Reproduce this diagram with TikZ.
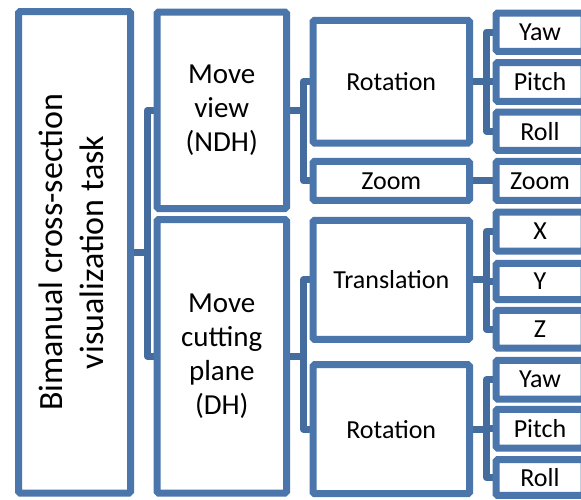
\documentclass[tikz,border=0pt]{standalone}
\usepackage{fontspec}
\setmainfont{Carlito}
\usetikzlibrary{backgrounds}
\definecolor{bord}{HTML}{4A76AC}
\definecolor{conn}{HTML}{446C9F}
\begin{document}
\begin{tikzpicture}[x=1pt,y=-1pt,
  box/.style={draw=bord, line width=7pt, fill=white, rounded corners=1.5pt, inner sep=0pt, align=center},
  link/.style={draw=conn, line width=7pt, line join=round},
  fa/.style={font=\fontsize{26}{31}\selectfont},
  fb/.style={font=\fontsize{29}{34}\selectfont},
  leaf/.style={box, fa, minimum width=88pt}]
\useasboundingbox (0,0) rectangle (581,499);
\clip (0,0) rectangle (581,499);
% root
\node[box, minimum width=112pt, minimum height=481.5pt] (root) at (74.5,252.25)
  {\rotatebox{90}{\fontsize{34}{41}\selectfont\begin{tabular}{@{}c@{}}Bimanual cross-section\\visualization task\end{tabular}}};
% level 2
\node[box, fb, minimum width=129.5pt, minimum height=196.5pt] (mv) at (221.75,110.25) {Move\\view\\(NDH)};
\node[box, fb, minimum width=129.5pt, minimum height=273.5pt] (mcp) at (221.75,356.25) {Move\\cutting\\plane\\(DH)};
% level 3
\node[box, fa, minimum width=156.5pt, minimum height=122.7pt] (rot1) at (391.25,81.65) {Rotation};
\node[box, fa, minimum width=156.5pt, minimum height=39pt] (zm3) at (391.25,180.8) {Zoom};
\node[box, fa, minimum width=156.5pt, minimum height=119pt] (tr) at (391.25,279.8) {Translation};
\node[box, fa, minimum width=156.5pt, minimum height=129pt] (rot2) at (391.25,429.2) {Rotation};
% level 4
\node[leaf, minimum height=38.3pt] (yaw1) at (540,32.15) {Yaw};
\node[leaf, minimum height=38.8pt] (pitch1) at (540,81.9) {Pitch};
\node[leaf, minimum height=38.3pt] (roll1) at (540,131.15) {Roll};
\node[leaf, minimum height=39pt] (zm4) at (540,180.8) {Zoom};
\node[leaf, minimum height=39pt] (xx) at (540,231.5) {X};
\node[leaf, minimum height=36.4pt] (yy) at (540,281.5) {Y};
\node[leaf, minimum height=37.7pt] (zz) at (540,329.15) {Z};
\node[leaf, minimum height=38.7pt] (yaw2) at (540,379.65) {Yaw};
\node[leaf, minimum height=38.7pt] (pitch2) at (540,428.65) {Pitch};
\node[leaf, minimum height=35.6pt] (roll2) at (540,477.5) {Roll};
% connectors
\begin{pgfonlayer}{background}
\draw[link] (root.east) -- ++(13.5,0) |- (mv.west);
\draw[link] (root.east) -- ++(13.5,0) |- (mcp.west);
\draw[link] (mv.east) -- ++(13.5,0) |- (rot1.west);
\draw[link] (mv.east) -- ++(13.5,0) |- (zm3.west);
\draw[link] (mcp.east) -- ++(13.5,0) |- (tr.west);
\draw[link] (mcp.east) -- ++(13.5,0) |- (rot2.west);
\draw[link] (rot1.east) -- ++(13.5,0) |- (yaw1.west);
\draw[link] (rot1.east) -- ++(13.5,0) |- (pitch1.west);
\draw[link] (rot1.east) -- ++(13.5,0) |- (roll1.west);
\draw[link] (zm3.east) -- (zm4.west);
\draw[link] (tr.east) -- ++(13.5,0) |- (xx.west);
\draw[link] (tr.east) -- ++(13.5,0) |- (yy.west);
\draw[link] (tr.east) -- ++(13.5,0) |- (zz.west);
\draw[link] (rot2.east) -- ++(13.5,0) |- (yaw2.west);
\draw[link] (rot2.east) -- ++(13.5,0) |- (pitch2.west);
\draw[link] (rot2.east) -- ++(13.5,0) |- (roll2.west);
\end{pgfonlayer}
\end{tikzpicture}
\end{document}
